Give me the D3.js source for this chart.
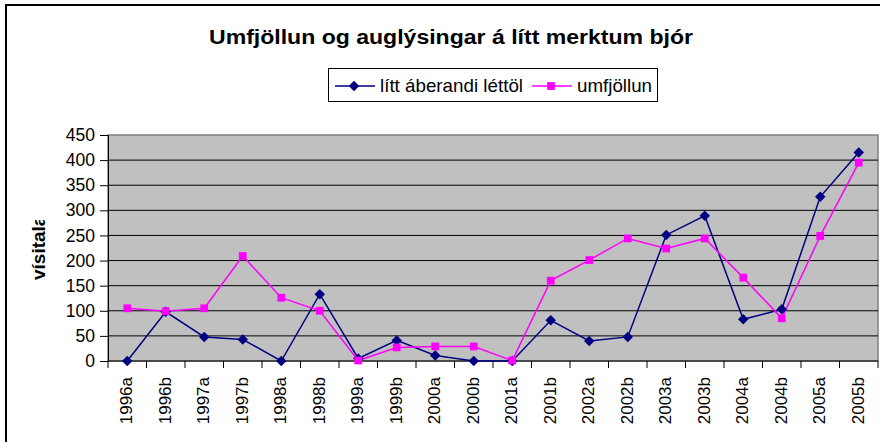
<!DOCTYPE html>
<html>
<head>
<meta charset="utf-8">
<script src="https://cdn.jsdelivr.net/npm/d3@7"></script>
<style>
  body { margin: 0; background: #fff; }
  text { font-family: "Liberation Sans", Arial, sans-serif; }
</style>
</head>
<body>
<div id="chart"></div>
<script>
// data
let periods = ['1996a','1996b','1997a','1997b','1998a','1998b','1999a','1999b','2000a','2000b',
               '2001a','2001b','2002a','2002b','2003a','2003b','2004a','2004b','2005a','2005b'];
let lettol = [0, 98, 48, 43, 0, 133, 5, 41, 11, 0, 0, 81, 40, 48, 251, 289, 83, 103, 327, 415];
let umfjollun = [105, 99, 105, 209, 126, 100, 1, 27, 29, 29, 1, 160, 201, 244, 224, 244, 166, 85, 249, 395];
let yTicks = [0, 50, 100, 150, 200, 250, 300, 350, 400, 450];
let seriesNames = ['lítt áberandi léttöl', 'umfjöllun'];

let width = 880, height = 442;
let margin = { left: 108, right: 2, top: 135, bottom: 81 };

let svg = d3.select('#chart').append('svg')
    .attr('width', width)
    .attr('height', height);

// chart frame (only left/top visible in the picture)
svg.append('rect')
    .attr('x', 6).attr('y', 5)
    .attr('width', 1000).attr('height', 600)
    .attr('fill', 'none')
    .attr('stroke', '#000')
    .attr('stroke-width', 2);

let x = d3.scaleBand()
    .domain(periods)
    .range([margin.left, width - margin.right]);

let y = d3.scaleLinear()
    .domain([0, 450])
    .range([height - margin.bottom, margin.top]);

// plot area
svg.append('rect')
    .attr('x', x.range()[0])
    .attr('y', y(450))
    .attr('width', x.range()[1] - x.range()[0])
    .attr('height', y(0) - y(450))
    .attr('fill', '#c0c0c0')
    .attr('stroke', '#808080')
    .attr('stroke-width', 1.5);

// gridlines
svg.selectAll('.grid')
    .data(yTicks.filter(d => d > 0 && d < 450))
    .enter().append('line')
    .attr('class', 'grid')
    .attr('x1', x.range()[0])
    .attr('x2', x.range()[1])
    .attr('y1', d => y(d))
    .attr('y2', d => y(d))
    .attr('stroke', '#000')
    .attr('stroke-width', 1);

// y axis
let yAxis = d3.axisLeft(y)
    .tickValues(yTicks)
    .tickSize(8)
    .tickPadding(5);

let gy = svg.append('g')
    .attr('transform', `translate(${margin.left},0)`)
    .call(yAxis);
gy.select('.domain').attr('stroke', '#000');
gy.selectAll('.tick line').attr('stroke', '#000');
gy.selectAll('text')
    .attr('font-size', 17.5)
    .attr('font-family', '"Liberation Sans", Arial, sans-serif')
    .attr('fill', '#000');

// x axis: ticks sit on the band edges
let edges = periods.map(p => x(p)).concat([x.range()[1]]);
svg.append('line')
    .attr('x1', x.range()[0]).attr('x2', x.range()[1])
    .attr('y1', y(0)).attr('y2', y(0))
    .attr('stroke', '#000');
svg.selectAll('.xtick')
    .data(edges)
    .enter().append('line')
    .attr('class', 'xtick')
    .attr('x1', d => d).attr('x2', d => d)
    .attr('y1', y(0)).attr('y2', y(0) + 7)
    .attr('stroke', '#000');

svg.selectAll('.xlabel')
    .data(periods)
    .enter().append('text')
    .attr('class', 'xlabel')
    .attr('transform', d => `translate(${x(d) + x.bandwidth() / 2 + 5},${y(0) + 16}) rotate(-90)`)
    .attr('text-anchor', 'end')
    .attr('font-size', 17)
    .text(d => d);

// y label, clipped like the original
svg.append('clipPath').attr('id', 'ylab-clip')
    .append('rect')
    .attr('x', 20).attr('y', 220).attr('width', 40).attr('height', 80);

svg.append('g')
    .attr('clip-path', 'url(#ylab-clip)')
    .append('text')
    .attr('transform', 'translate(45,280) rotate(-90)')
    .attr('text-anchor', 'start')
    .attr('font-size', 19)
    .attr('font-weight', 'bold')
    .text('vísitala');

// lines
let line = d3.line()
    .x((d, i) => x(periods[i]) + x.bandwidth() / 2)
    .y(d => y(d));

svg.append('path')
    .datum(lettol)
    .attr('d', line)
    .attr('fill', 'none')
    .attr('stroke', '#000080')
    .attr('stroke-width', 1.5);

svg.append('path')
    .datum(umfjollun)
    .attr('d', line)
    .attr('fill', 'none')
    .attr('stroke', '#ff00ff')
    .attr('stroke-width', 1.5);

let diamond = d3.symbol().type(d3.symbolDiamond2).size(70);
let square = d3.symbol().type(d3.symbolSquare).size(60);

svg.selectAll('.m1')
    .data(lettol)
    .enter().append('path')
    .attr('class', 'm1')
    .attr('d', diamond)
    .attr('transform', (d, i) => `translate(${x(periods[i]) + x.bandwidth() / 2},${y(d)})`)
    .attr('fill', '#000080');

svg.selectAll('.m2')
    .data(umfjollun)
    .enter().append('path')
    .attr('class', 'm2')
    .attr('d', square)
    .attr('transform', (d, i) => `translate(${x(periods[i]) + x.bandwidth() / 2},${y(d)})`)
    .attr('fill', '#ff00ff');

// title
svg.append('text')
    .attr('x', 451)
    .attr('y', 44)
    .attr('text-anchor', 'middle')
    .attr('font-size', 21)
    .attr('font-weight', 'bold')
    .attr('textLength', 484)
    .attr('lengthAdjust', 'spacingAndGlyphs')
    .text('Umfjöllun og auglýsingar á lítt merktum bjór');

// legend
let legend = svg.append('g');
legend.append('rect')
    .attr('x', 328.5).attr('y', 68.5)
    .attr('width', 329).attr('height', 33)
    .attr('fill', '#fff')
    .attr('stroke', '#000');

let legendItems = [
    { name: seriesNames[0], color: '#000080', sym: diamond, x0: 335, w: 143 },
    { name: seriesNames[1], color: '#ff00ff', sym: square, x0: 532, w: 75 }
];

legendItems.forEach(d => {
    legend.append('line')
        .attr('x1', d.x0).attr('x2', d.x0 + 40)
        .attr('y1', 86).attr('y2', 86)
        .attr('stroke', d.color)
        .attr('stroke-width', 1.5);
    legend.append('path')
        .attr('d', d.sym)
        .attr('transform', `translate(${d.x0 + 19},86)`)
        .attr('fill', d.color);
    legend.append('text')
        .attr('x', d.x0 + 45)
        .attr('y', 92)
        .attr('font-size', 19)
        .attr('textLength', d.w)
        .attr('lengthAdjust', 'spacingAndGlyphs')
        .text(d.name);
});
</script>
</body>
</html>
